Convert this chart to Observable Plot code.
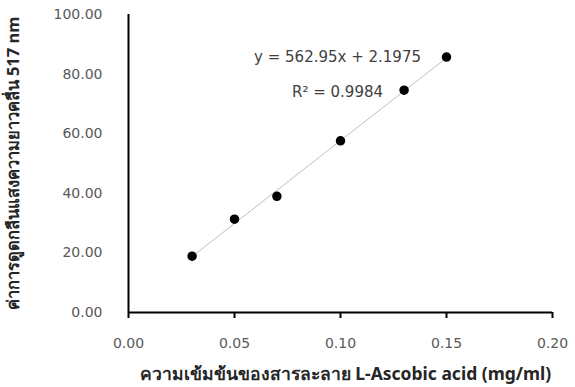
<!DOCTYPE html>
<html>
<head>
<meta charset="utf-8">
<script src="https://cdn.jsdelivr.net/npm/d3@7"></script>
<script src="https://cdn.jsdelivr.net/npm/@observablehq/plot@0.6"></script>
<style>
  html, body { margin: 0; padding: 0; background: #fff; }
  svg { display: block; }
</style>
</head>
<body>
<div id="chart"></div>
<script>
const concentration = [0.03, 0.05, 0.07, 0.10, 0.13, 0.15];
const absorbance = [18.9, 31.3, 39.0, 57.6, 74.6, 85.7];
const xTicks = [0, 0.05, 0.10, 0.15, 0.20];
const yTicks = [0, 20, 40, 60, 80, 100];
const equationText = ["y = 562.95x + 2.1975", "R² = 0.9984"];
const xTitle = "ความเข้มข้นของสารละลาย L-Ascobic acid (mg/ml)";
const yTitle = "ค่าการดูดกลืนแสงความยาวคลื่น 517 nm";

const data = concentration.map((x, i) => ({x, y: absorbance[i]}));
const font = "'DejaVu Sans', 'Noto Sans', sans-serif";

const chart = Plot.plot({
  width: 575,
  height: 387,
  marginLeft: 128,
  marginRight: 23,
  marginTop: 14,
  marginBottom: 75,
  style: {fontFamily: font, fontSize: "14px", background: "#fff"},
  x: {domain: [0, 0.2]},
  y: {domain: [0, 100]},
  marks: [
    Plot.axisX({
      ticks: xTicks, tickFormat: d => d.toFixed(2), tickSize: 6, tickPadding: 20,
      stroke: "#000", strokeWidth: 2, color: "#595959", fontSize: 14,
      label: xTitle, labelArrow: "none", labelAnchor: "center", labelOffset: 67
    }),
    Plot.axisY({
      ticks: yTicks, tickFormat: d => d.toFixed(2), tickSize: 0, tickPadding: 26,
      color: "#595959", fontSize: 14,
      label: yTitle, labelArrow: "none", labelAnchor: "center", labelOffset: 121
    }),
    Plot.ruleY([0], {stroke: "#000", strokeWidth: 2}),
    Plot.ruleX([0], {stroke: "#000", strokeWidth: 2}),
    Plot.linearRegressionY(data, {x: "x", y: "y", ci: 0, stroke: "#bfbfbf", strokeWidth: 1}),
    Plot.dot(data, {x: "x", y: "y", r: 4, fill: "#000", stroke: "#000"}),
    Plot.text([equationText[0]], {x: 0.0986, y: 85.7, text: d => d, fill: "#404040", fontSize: 15}),
    Plot.text([equationText[1]], {x: 0.0986, y: 73.9, text: d => d, fill: "#404040", fontSize: 15})
  ]
});
// bold, dark axis titles, no arrows
chart.querySelectorAll("g[aria-label='x-axis label'] text, g[aria-label='y-axis label'] text").forEach(t => {
  t.textContent = t.textContent.replace(/\s*[→↑←↓]\s*/g, "").trim();
  t.setAttribute("font-weight", "bold");
  t.setAttribute("fill", "#262626");
  t.setAttribute("font-size", "16.5");
  t.setAttribute("font-family", "'Noto Sans', 'DejaVu Sans', sans-serif");
});
chart.querySelectorAll("g[aria-label='x-axis label'] text").forEach(t => {
  t.setAttribute("dx", "5");
  t.setAttribute("font-size", "17.5");
});
document.getElementById("chart").appendChild(chart);
</script>
</body>
</html>
